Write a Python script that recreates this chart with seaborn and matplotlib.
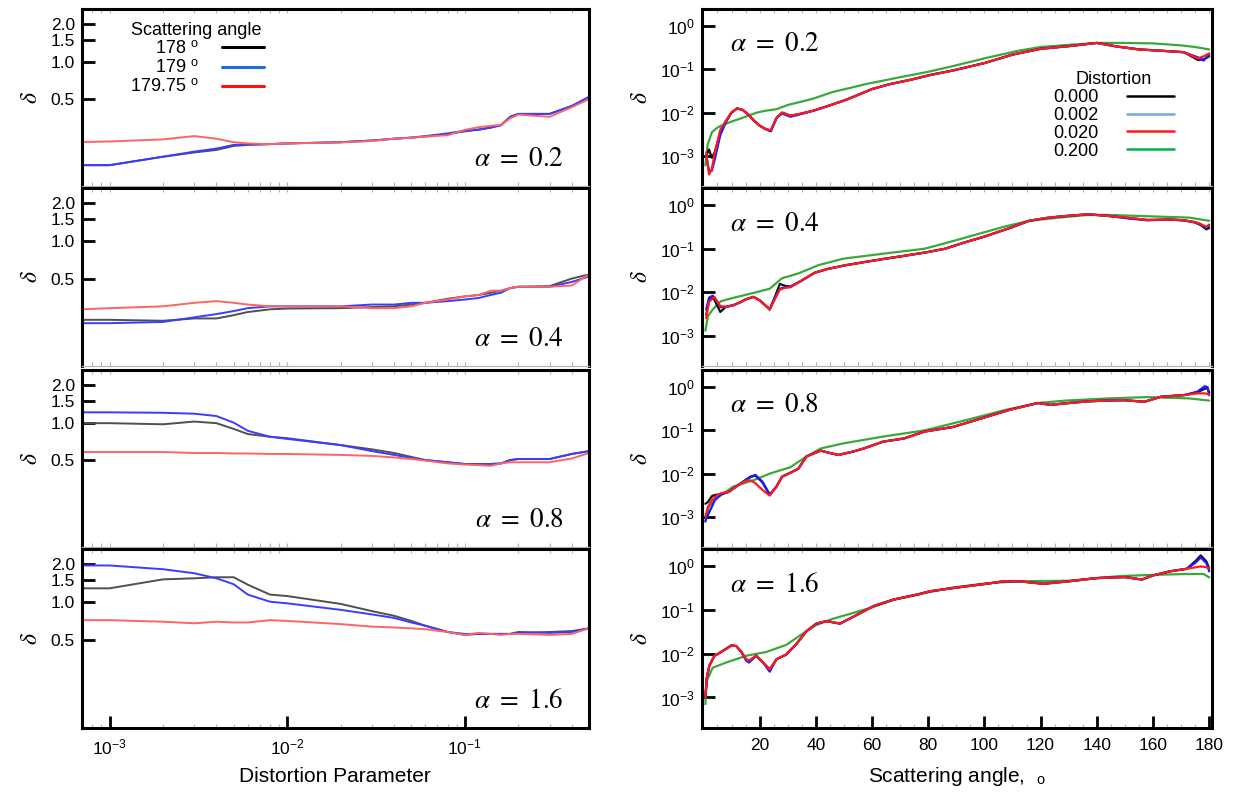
import numpy as np
import pandas as pd
import matplotlib
matplotlib.use("Agg")
import matplotlib.pyplot as plt
import seaborn as sns
from matplotlib.lines import Line2D
from matplotlib.ticker import (FixedLocator, FormatStrFormatter, LogLocator,
                               LogFormatterSciNotation, MultipleLocator,
                               NullLocator, NullFormatter)

# ---------------- data: left column (delta vs distortion parameter) -------------
DIST = [0.0007, 0.001, 0.002, 0.003, 0.004, 0.005, 0.006, 0.008, 0.01, 0.02, 0.03,
        0.04, 0.05, 0.06, 0.08, 0.1, 0.12, 0.14, 0.16, 0.18, 0.2, 0.3, 0.4, 0.5]
ANGLE_LABELS = ["178", "179", "179.75"]

L02_178 = [0.147, 0.147, 0.172, 0.186, 0.195, 0.21, 0.214, 0.217, 0.22, 0.225, 0.232, 0.24,
           0.245, 0.25, 0.262, 0.275, 0.285, 0.295, 0.31, 0.36, 0.38, 0.38, 0.44, 0.52]
L02_179 = [0.147, 0.147, 0.172, 0.189, 0.20, 0.214, 0.216, 0.217, 0.22, 0.225, 0.232, 0.24,
           0.245, 0.252, 0.265, 0.278, 0.283, 0.295, 0.307, 0.36, 0.38, 0.38, 0.44, 0.52]
L02_17975 = [0.226, 0.228, 0.237, 0.252, 0.24, 0.225, 0.22, 0.217, 0.22, 0.224, 0.23, 0.24,
             0.244, 0.25, 0.256, 0.283, 0.297, 0.305, 0.31, 0.35, 0.375, 0.36, 0.43, 0.50]

L04_178 = [0.234, 0.234, 0.23, 0.24, 0.24, 0.255, 0.27, 0.284, 0.288, 0.29, 0.296, 0.30,
           0.31, 0.32, 0.345, 0.36, 0.37, 0.385, 0.40, 0.42, 0.43, 0.435, 0.50, 0.54]
L04_179 = [0.22, 0.22, 0.225, 0.245, 0.26, 0.275, 0.29, 0.30, 0.30, 0.30, 0.31, 0.31,
           0.32, 0.32, 0.33, 0.34, 0.35, 0.37, 0.385, 0.42, 0.43, 0.43, 0.47, 0.52]
L04_17975 = [0.284, 0.29, 0.30, 0.32, 0.33, 0.32, 0.31, 0.30, 0.30, 0.30, 0.29, 0.29,
             0.30, 0.32, 0.34, 0.36, 0.37, 0.40, 0.40, 0.42, 0.43, 0.43, 0.44, 0.54]

L08_178 = [0.99, 0.99, 0.97, 1.02, 0.99, 0.89, 0.81, 0.77, 0.75, 0.66, 0.61, 0.57,
           0.53, 0.50, 0.48, 0.465, 0.46, 0.465, 0.47, 0.50, 0.51, 0.51, 0.56, 0.59]
L08_179 = [1.21, 1.21, 1.20, 1.18, 1.13, 1.0, 0.86, 0.77, 0.74, 0.66, 0.59, 0.55,
           0.52, 0.50, 0.48, 0.465, 0.465, 0.465, 0.47, 0.50, 0.51, 0.51, 0.56, 0.59]
L08_17975 = [0.58, 0.58, 0.58, 0.57, 0.57, 0.565, 0.565, 0.56, 0.56, 0.55, 0.54, 0.525,
             0.51, 0.495, 0.47, 0.46, 0.455, 0.45, 0.47, 0.48, 0.48, 0.48, 0.515, 0.57]

L16_178 = [1.29, 1.29, 1.52, 1.55, 1.58, 1.58, 1.38, 1.15, 1.12, 0.97, 0.85, 0.78,
           0.71, 0.65, 0.58, 0.55, 0.56, 0.56, 0.56, 0.56, 0.57, 0.58, 0.59, 0.62]
L16_179 = [1.96, 1.96, 1.83, 1.70, 1.55, 1.39, 1.15, 1.01, 0.98, 0.87, 0.80, 0.75,
           0.69, 0.65, 0.58, 0.56, 0.56, 0.56, 0.56, 0.56, 0.58, 0.57, 0.58, 0.62]
L16_17975 = [0.72, 0.72, 0.70, 0.68, 0.70, 0.69, 0.69, 0.72, 0.71, 0.67, 0.64, 0.63,
             0.62, 0.61, 0.58, 0.55, 0.57, 0.56, 0.55, 0.56, 0.56, 0.55, 0.56, 0.62]

# ---------------- data: right column (delta vs scattering angle) ----------------
DIST_LABELS = ["0.000", "0.002", "0.020", "0.200"]

ANG_A02 = [1, 2, 3, 4, 6, 8, 10, 12, 14, 16, 18, 20, 22, 24, 26, 28, 31, 34, 39, 44, 51,
           60, 66, 74, 81, 89, 100, 110, 120, 130, 140, 147, 155, 163, 171, 176, 178, 180]
R02_000 = [1.0e-3, 1.4e-3, 9e-4, 1.2e-3, 3.5e-3, 6.3e-3, 1.0e-2, 1.25e-2, 1.15e-2, 9e-3,
           6.5e-3, 5e-3, 4.2e-3, 3.7e-3, 7.5e-3, 1e-2, 8.5e-3, 9.2e-3, 1.1e-2, 1.4e-2, 2e-2,
           3.5e-2, 4.5e-2, 5.8e-2, 7.5e-2, 0.095, 0.14, 0.22, 0.3, 0.345, 0.41, 0.34, 0.29,
           0.27, 0.25, 0.165, 0.17, 0.2]
R02_002 = [1.0e-3, 4.5e-4, 4.5e-4, 8e-4, 3e-3, 6e-3, 1.0e-2, 1.25e-2, 1.15e-2, 9e-3,
           6.5e-3, 5e-3, 4.2e-3, 3.8e-3, 7.5e-3, 9.5e-3, 8e-3, 9e-3, 1.1e-2, 1.4e-2, 2e-2,
           3.5e-2, 4.5e-2, 5.8e-2, 7.5e-2, 0.095, 0.14, 0.22, 0.3, 0.345, 0.41, 0.34, 0.29,
           0.27, 0.25, 0.19, 0.16, 0.22]
R02_020 = [1.2e-3, 3.7e-4, 5e-4, 1.1e-3, 4e-3, 6.5e-3, 1.0e-2, 1.25e-2, 1.15e-2, 9e-3,
           6.5e-3, 5e-3, 4.2e-3, 3.9e-3, 7.5e-3, 1e-2, 8.5e-3, 9.3e-3, 1.1e-2, 1.4e-2, 2e-2,
           3.5e-2, 4.5e-2, 5.8e-2, 7.5e-2, 0.095, 0.14, 0.22, 0.3, 0.345, 0.41, 0.34, 0.29,
           0.27, 0.25, 0.18, 0.2, 0.235]
ANG_G02 = [0.7, 1.5, 3, 5, 7, 10, 13, 16, 19, 22, 26, 30, 35, 39, 46, 52, 58, 64, 70, 80,
           89, 100, 112, 120, 130, 140, 150, 160, 170, 175, 180]
R02_200 = [6e-4, 1.8e-3, 3.5e-3, 4.5e-3, 5.2e-3, 6.2e-3, 7.2e-3, 8.5e-3, 1.0e-2, 1.1e-2,
           1.2e-2, 1.5e-2, 1.8e-2, 2.1e-2, 3.0e-2, 3.7e-2, 4.6e-2, 5.5e-2, 6.6e-2, 8.8e-2,
           0.12, 0.18, 0.27, 0.33, 0.37, 0.41, 0.41, 0.40, 0.36, 0.33, 0.29]

ANG_A04 = [1, 2, 3.3, 4, 6, 8, 10.6, 13, 15, 17.8, 20, 22, 23.6, 25.5, 27.2, 29, 31, 34,
           39.6, 44, 50, 57, 64, 71, 79, 86, 93, 100, 109, 116, 122, 128, 134, 137, 144,
           151, 158, 166, 171, 175, 177, 179, 180]
R04_000 = [3e-3, 6.5e-3, 7.5e-3, 6.5e-3, 3.5e-3, 4.6e-3, 5.0e-3, 5.8e-3, 6.8e-3, 7.8e-3,
           6.5e-3, 5.0e-3, 4.0e-3, 8e-3, 1.55e-2, 1.4e-2, 1.35e-2, 1.7e-2, 2.8e-2, 3.4e-2,
           4.1e-2, 4.9e-2, 5.8e-2, 6.8e-2, 8.2e-2, 0.1, 0.14, 0.19, 0.3, 0.44, 0.51, 0.56,
           0.6, 0.62, 0.57, 0.51, 0.46, 0.47, 0.45, 0.4, 0.35, 0.28, 0.3]
R04_002 = [4e-3, 7.5e-3, 8.3e-3, 7.5e-3, 4.5e-3, 4.6e-3, 5.0e-3, 5.8e-3, 6.8e-3, 7.8e-3,
           6.5e-3, 5.0e-3, 4.0e-3, 7.5e-3, 1.2e-2, 1.3e-2, 1.35e-2, 1.7e-2, 2.8e-2, 3.4e-2,
           4.1e-2, 4.9e-2, 5.8e-2, 6.8e-2, 8.2e-2, 0.1, 0.14, 0.19, 0.3, 0.44, 0.51, 0.56,
           0.6, 0.62, 0.57, 0.5, 0.45, 0.47, 0.45, 0.41, 0.36, 0.3, 0.34]
R04_020 = [2.5e-3, 6.0e-3, 7.2e-3, 7.6e-3, 4.8e-3, 4.6e-3, 5.0e-3, 5.8e-3, 6.8e-3, 7.8e-3,
           6.5e-3, 5.0e-3, 4.0e-3, 7e-3, 1.15e-2, 1.25e-2, 1.3e-2, 1.7e-2, 2.8e-2, 3.4e-2,
           4.1e-2, 4.9e-2, 5.8e-2, 6.8e-2, 8.2e-2, 0.1, 0.14, 0.19, 0.3, 0.44, 0.51, 0.56,
           0.6, 0.62, 0.57, 0.52, 0.46, 0.47, 0.45, 0.41, 0.37, 0.32, 0.36]
ANG_G04 = [0.7, 1.6, 3.3, 6.2, 10.6, 17.8, 23.6, 28, 33.8, 41, 49.7, 64, 78.7, 88.8, 99,
           107.7, 116, 126.5, 136.7, 144, 158, 173, 180]
R04_200 = [1.3e-3, 2.8e-3, 4e-3, 6.2e-3, 7.4e-3, 9.6e-3, 1.2e-2, 2.1e-2, 2.7e-2, 4.2e-2,
           5.9e-2, 7.7e-2, 0.1, 0.15, 0.23, 0.33, 0.44, 0.52, 0.6, 0.6, 0.56, 0.52, 0.44]

ANG_A08 = [0.7, 1.6, 3, 4, 6.2, 9.1, 12, 15, 16.7, 18.5, 21, 23.6, 26, 28, 31, 33.8, 36.7,
           41.7, 45, 48, 53, 57, 64, 71.4, 78.7, 88.8, 99, 109, 119, 123.6, 130, 136.7, 143,
           149.7, 157, 162.8, 171.4, 175.8, 178.4, 179.4, 180]
R08_000 = [2e-3, 2.2e-3, 3e-3, 3.2e-3, 3.3e-3, 3.8e-3, 5.2e-3, 7.1e-3, 8.3e-3, 9e-3, 6.3e-3,
           3.2e-3, 5e-3, 8.5e-3, 1.05e-2, 1.3e-2, 2.5e-2, 3.4e-2, 3.0e-2, 2.7e-2, 3.2e-2,
           3.8e-2, 5.5e-2, 6.5e-2, 9.4e-2, 0.12, 0.19, 0.3, 0.43, 0.39, 0.43, 0.47, 0.49,
           0.5, 0.46, 0.6, 0.66, 0.76, 0.92, 0.95, 0.75]
R08_002 = [8e-4, 1.1e-3, 1.7e-3, 2.4e-3, 3.3e-3, 3.8e-3, 5.2e-3, 7.1e-3, 8.5e-3, 9.3e-3,
           6.5e-3, 3.3e-3, 5e-3, 8.5e-3, 1.05e-2, 1.3e-2, 2.5e-2, 3.4e-2, 3.0e-2, 2.7e-2,
           3.2e-2, 3.8e-2, 5.5e-2, 6.5e-2, 9.4e-2, 0.12, 0.19, 0.3, 0.43, 0.39, 0.43, 0.47,
           0.49, 0.5, 0.46, 0.6, 0.66, 0.79, 1.05, 1.0, 0.65]
R08_020 = [1e-3, 1.7e-3, 2.4e-3, 2.9e-3, 3.5e-3, 3.8e-3, 5.2e-3, 6.8e-3, 7e-3, 6e-3, 4.2e-3,
           3.1e-3, 5e-3, 8.5e-3, 1.05e-2, 1.3e-2, 2.5e-2, 3.4e-2, 3.0e-2, 2.7e-2, 3.2e-2,
           3.8e-2, 5.5e-2, 6.5e-2, 9.4e-2, 0.12, 0.19, 0.3, 0.43, 0.39, 0.43, 0.47, 0.49,
           0.5, 0.46, 0.6, 0.66, 0.72, 0.72, 0.7, 0.66]
ANG_G08 = [0.7, 1.9, 4.8, 10.6, 17.8, 23.6, 30.9, 36.7, 41.7, 49.7, 64, 78.7, 93, 107.7,
           119, 129, 144, 158, 173, 180]
R08_200 = [7.6e-4, 1.7e-3, 2.7e-3, 5e-3, 7e-3, 1e-2, 1.4e-2, 2.5e-2, 3.8e-2, 5e-2, 7.2e-2,
           0.1, 0.17, 0.3, 0.43, 0.49, 0.55, 0.59, 0.55, 0.49]

ANG_A16 = [0.7, 1.2, 2.1, 3.9, 6.9, 9.9, 11.7, 13.5, 15.2, 16.2, 18.8, 21.2, 23.6, 26, 29.5,
           33, 36.7, 40.2, 43.8, 48.6, 53.3, 60.5, 67.6, 76, 80.7, 89, 100.7, 106.7, 112.6,
           121, 130, 140, 150, 156, 160, 166, 172, 175, 177, 179, 180]
R16_000 = [1e-3, 2.8e-3, 5.3e-3, 8.9e-3, 1.16e-2, 1.55e-2, 1.5e-2, 1.1e-2, 7.5e-3, 6.8e-3,
           9e-3, 6.3e-3, 4.4e-3, 7.5e-3, 9.6e-3, 1.65e-2, 3.3e-2, 4.9e-2, 5.6e-2, 4.9e-2,
           7e-2, 0.123, 0.174, 0.226, 0.27, 0.32, 0.4, 0.455, 0.455, 0.4, 0.455, 0.54, 0.57,
           0.5, 0.62, 0.77, 0.88, 1.3, 1.78, 1.3, 0.9]
R16_002 = [1e-3, 2.8e-3, 5.3e-3, 8.9e-3, 1.16e-2, 1.55e-2, 1.5e-2, 1.1e-2, 7e-3, 6.3e-3,
           9e-3, 6.3e-3, 3.9e-3, 7.5e-3, 9.6e-3, 1.65e-2, 3.3e-2, 4.9e-2, 5.6e-2, 4.9e-2,
           7e-2, 0.123, 0.174, 0.226, 0.27, 0.32, 0.4, 0.455, 0.455, 0.4, 0.455, 0.54, 0.57,
           0.5, 0.62, 0.77, 0.88, 1.2, 1.6, 1.19, 0.77]
R16_020 = [1e-3, 2.8e-3, 5.3e-3, 8.9e-3, 1.16e-2, 1.55e-2, 1.5e-2, 1.1e-2, 7.5e-3, 7e-3,
           9e-3, 6.3e-3, 4.4e-3, 7.5e-3, 9.6e-3, 1.65e-2, 3.3e-2, 4.9e-2, 5.6e-2, 4.9e-2,
           7e-2, 0.123, 0.174, 0.226, 0.27, 0.32, 0.4, 0.455, 0.455, 0.4, 0.455, 0.54, 0.57,
           0.5, 0.62, 0.77, 0.88, 0.95, 1.0, 0.95, 0.92]
ANG_G16 = [0.7, 1.2, 3.3, 8.1, 15.2, 22.4, 29.5, 34.3, 40, 46, 53, 60, 67.6, 80.7, 89,
           100.7, 112.6, 130, 148, 160, 172, 178, 180]
R16_200 = [7e-4, 2.4e-3, 4.8e-3, 6.3e-3, 9e-3, 1.1e-2, 1.6e-2, 2.6e-2, 4.5e-2, 6.3e-2,
           8.5e-2, 0.115, 0.17, 0.26, 0.33, 0.41, 0.455, 0.47, 0.6, 0.64, 0.67, 0.67, 0.56]

ALPHAS = ["0.2", "0.4", "0.8", "1.6"]
LEFT_SERIES = [(L02_178, L02_179, L02_17975), (L04_178, L04_179, L04_17975),
               (L08_178, L08_179, L08_17975), (L16_178, L16_179, L16_17975)]
RIGHT_SERIES = [(ANG_A02, R02_000, R02_002, R02_020, ANG_G02, R02_200),
                (ANG_A04, R04_000, R04_002, R04_020, ANG_G04, R04_200),
                (ANG_A08, R08_000, R08_002, R08_020, ANG_G08, R08_200),
                (ANG_A16, R16_000, R16_002, R16_020, ANG_G16, R16_200)]

# ---------------- style ----------------
sns.set_theme(style="white")
plt.rcParams["font.family"] = ["Liberation Sans", "DejaVu Sans"]
plt.rcParams["mathtext.fontset"] = "stix"
for k in ["text.color", "axes.labelcolor", "xtick.color", "ytick.color"]:
    plt.rcParams[k] = "black"

LEFT_PAL = {"178": "#505050", "179": "#3c3cff", "179.75": "#ff6464"}
RIGHT_PAL = {"0.200": "#3aa83a", "0.000": "#111111", "0.002": "#1a1aff", "0.020": "#ff1a1a"}

W, H = 1236, 795
fig = plt.figure(figsize=(W / 100, H / 100), dpi=100)


def box(x0, x1, y0, y1):
    return [x0 / W, 1 - y1 / H, (x1 - x0) / W, (y1 - y0) / H]


ROWS = [(9, 186), (188, 366), (370, 547), (549, 728)]
GREY = "#b4b4b4"


def style_axes(ax, last):
    for s in ["left", "right", "top"]:
        ax.spines[s].set_color("black")
        ax.spines[s].set_linewidth(2.2)
        ax.spines[s].set_visible(True)
    ax.spines["bottom"].set_visible(True)
    if last:
        ax.spines["bottom"].set_color("black")
        ax.spines["bottom"].set_linewidth(2.2)
    else:
        ax.spines["bottom"].set_color(GREY)
        ax.spines["bottom"].set_linewidth(0.9)
    ax.tick_params(axis="y", which="major", direction="in", length=9, width=2,
                   left=True, right=False, labelsize=12.5, pad=5, color="black")
    ax.tick_params(axis="x", which="minor", direction="in", length=3, width=0.8,
                   top=True, bottom=True, color=GREY)
    if last:
        ax.tick_params(axis="x", which="major", direction="in", length=9, width=2,
                       bottom=True, top=False, labelsize=12.5, pad=7, color="black")
    else:
        ax.tick_params(axis="x", which="major", direction="in", length=3, width=0.8,
                       bottom=True, top=True, labelbottom=False, color=GREY)
    ax.set_xlabel("")
    ax.set_ylabel(r"$\delta$", fontsize=17, labelpad=6)
    ax.grid(False)


# ---------------- left column ----------------
for i, (alpha, series) in enumerate(zip(ALPHAS, LEFT_SERIES)):
    ax = fig.add_axes(box(82, 589, *ROWS[i]))
    df = pd.DataFrame({
        "dist": DIST * 3,
        "delta": list(series[0]) + list(series[1]) + list(series[2]),
        "angle": sum([[lab] * len(DIST) for lab in ANGLE_LABELS], []),
    })
    sns.lineplot(data=df, x="dist", y="delta", hue="angle", hue_order=ANGLE_LABELS,
                 palette=LEFT_PAL, estimator=None, sort=False, lw=1.4, legend=False, ax=ax)
    ax.set_xscale("log")
    ax.set_yscale("log")
    ax.set_xlim(7e-4, 0.5)
    ax.set_ylim(0.1, 2.65)
    ax.yaxis.set_major_locator(FixedLocator([0.5, 1.0, 1.5, 2.0]))
    ax.yaxis.set_major_formatter(FormatStrFormatter("%.1f"))
    ax.yaxis.set_minor_locator(NullLocator())
    ax.xaxis.set_major_locator(FixedLocator([1e-3, 1e-2, 1e-1]))
    ax.xaxis.set_major_formatter(LogFormatterSciNotation())
    ax.xaxis.set_minor_locator(LogLocator(base=10, subs=np.arange(2, 10)))
    ax.xaxis.set_minor_formatter(NullFormatter())
    style_axes(ax, i == 3)
    ax.text(0.95, 0.15, r"$\alpha\ =\ %s$" % alpha, transform=ax.transAxes,
            ha="right", va="center", fontsize=19.5)
    if i == 0:
        handles = [Line2D([], [], color=c, lw=2.2) for c in ["black", "#1f6fd0", "#ff1010"]]
        labels = [lab + r" $^{\mathdefault{o}}$" for lab in ANGLE_LABELS]
        ax.legend(handles, labels, title="Scattering angle", loc="upper left",
                  bbox_to_anchor=(0.08, 0.97), frameon=False, markerfirst=False,
                  fontsize=13, title_fontsize=13, handlelength=2.3,
                  handletextpad=1.3, labelspacing=0.1, borderaxespad=0)

# ---------------- right column ----------------
for i, (alpha, series) in enumerate(zip(ALPHAS, RIGHT_SERIES)):
    ax = fig.add_axes(box(702, 1212, *ROWS[i]))
    ang_a, s000, s002, s020, ang_g, s200 = series
    df = pd.DataFrame({
        "angle": list(ang_g) + list(ang_a) * 3,
        "delta": list(s200) + list(s000) + list(s002) + list(s020),
        "dist": ["0.200"] * len(ang_g) + ["0.000"] * len(ang_a)
                + ["0.002"] * len(ang_a) + ["0.020"] * len(ang_a),
    })
    sns.lineplot(data=df, x="angle", y="delta", hue="dist",
                 hue_order=["0.200", "0.000", "0.002", "0.020"], palette=RIGHT_PAL,
                 estimator=None, sort=False, lw=1.6, legend=False, ax=ax)
    ax.set_yscale("log")
    ax.set_xlim(-0.5, 181)
    ax.set_ylim(2e-4, 2.5)
    ax.yaxis.set_major_locator(FixedLocator([1e-3, 1e-2, 1e-1, 1.0]))
    ax.yaxis.set_major_formatter(LogFormatterSciNotation())
    ax.yaxis.set_minor_locator(NullLocator())
    ax.xaxis.set_major_locator(FixedLocator([20, 40, 60, 80, 100, 120, 140, 160, 180]))
    ax.xaxis.set_minor_locator(MultipleLocator(5))
    style_axes(ax, i == 3)
    ax.text(0.055, 0.80, r"$\alpha\ =\ %s$" % alpha, transform=ax.transAxes,
            ha="left", va="center", fontsize=19.5)
    if i == 0:
        handles = [Line2D([], [], color=c, lw=1.8)
                   for c in ["black", "#6fa8e6", "#ff1a1a", "#00b050"]]
        ax.legend(handles, DIST_LABELS, title="Distortion", loc="upper right",
                  bbox_to_anchor=(0.94, 0.69), frameon=False, markerfirst=False,
                  fontsize=13, title_fontsize=13, handlelength=2.6,
                  handletextpad=1.6, labelspacing=0.05, borderaxespad=0)

fig.text(335 / W, 1 - 776 / H, "Distortion Parameter", ha="center", va="center", fontsize=15)
fig.text(957 / W, 1 - 776 / H, r"Scattering angle,  $_{\mathdefault{o}}$", ha="center",
         va="center", fontsize=15)

fig.savefig("out.png", dpi=100)
